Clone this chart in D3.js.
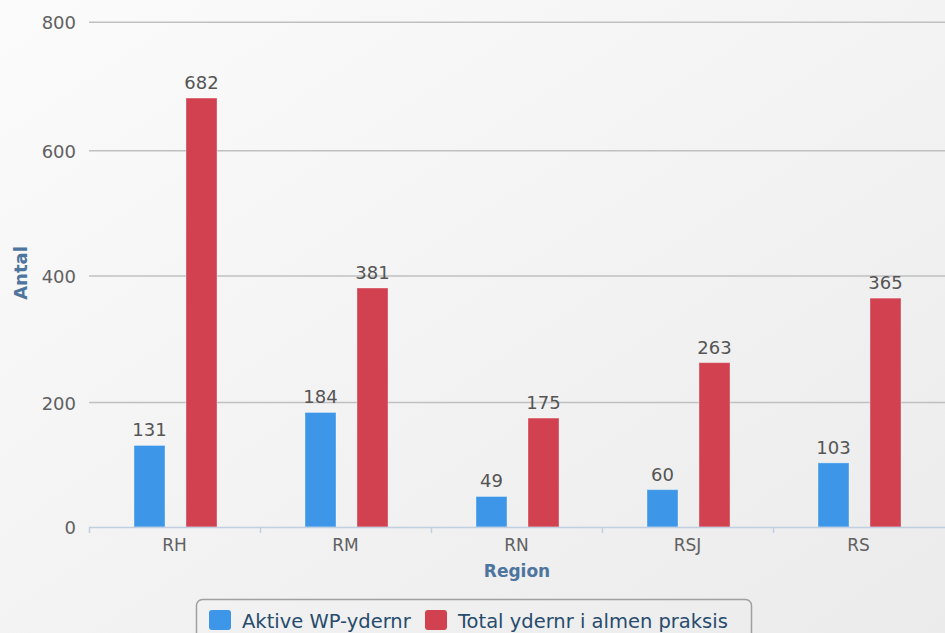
<!DOCTYPE html>
<html><head><meta charset="utf-8">
<script src="https://cdn.jsdelivr.net/npm/d3@7/dist/d3.min.js"></script>
<style>html,body{margin:0;padding:0;overflow:hidden;background:#f2f2f2}</style>
</head><body>
<svg id="c" width="945" height="633"></svg>
<script>
const categories = ["RH", "RM", "RN", "RSJ", "RS"];
const seriesNames = ["Aktive WP-ydernr", "Total ydernr i almen praksis"];
const aktive = [131, 184, 49, 60, 103];
const total = [682, 381, 175, 263, 365];
const yTicks = [0, 200, 400, 600, 800];
const colors = ["#3d96e8", "#d1414f"];

const svg = d3.select("#c");
const W = 945, H = 633;
const defs = svg.append("defs");
const g = defs.append("linearGradient").attr("id","bg").attr("x1",0).attr("y1",0).attr("x2",1).attr("y2",1);
g.append("stop").attr("offset","0%").attr("stop-color","#fbfbfb");
g.append("stop").attr("offset","100%").attr("stop-color","#ebebeb");
svg.append("rect").attr("width",W).attr("height",H).attr("fill","url(#bg)");

const pL = 89, pR = 944, pB = 527;
const x = d3.scaleBand().domain(categories).range([pL, pR]).padding(0);
// picture is slightly non-uniformly scaled vertically; follow measured gridline positions
const y = d3.scaleLinear().domain(yTicks).range([pB, 402.5, 276, 150.7, 22.3]);
const xs = d3.scaleBand().domain([0,1]).range([45, 128]).paddingInner(21/52).paddingOuter(0);

const font = "'DejaVu Sans', sans-serif";

// grid
svg.append("g").selectAll("line").data(yTicks.filter(d=>d>0)).join("line")
  .attr("x1", pL).attr("x2", W).attr("y1", d=>y(d)).attr("y2", d=>y(d))
  .attr("stroke","#c0c0c0").attr("stroke-width",1.6);

// y labels
svg.append("g").selectAll("text").data(yTicks).join("text")
  .attr("x", 76).attr("y", d=>y(d)+7).attr("text-anchor","end")
  .attr("font-family",font).attr("font-size",18).attr("fill","#606060").text(d=>d);

// bars
const data = [aktive, total];
data.forEach((vals, si) => {
  const gg = svg.append("g");
  gg.selectAll("rect").data(vals).join("rect")
    .attr("x", (d,i)=>x(categories[i]) + xs(si))
    .attr("width", xs.bandwidth())
    .attr("y", d=>y(d)).attr("height", d=>pB - y(d))
    .attr("fill", colors[si]).attr("stroke","rgba(255,255,255,0.35)").attr("stroke-width",1);
  gg.selectAll("text").data(vals).join("text")
    .attr("x", (d,i)=>x(categories[i]) + xs(si) + xs.bandwidth()/2)
    .attr("y", d=>y(d) - 9).attr("text-anchor","middle")
    .attr("font-family",font).attr("font-size",18).attr("fill","#555555").text(d=>d);
});

// x axis
svg.append("line").attr("x1", pL).attr("x2", W).attr("y1", pB+0.5).attr("y2", pB+0.5)
  .attr("stroke","#c0d0e0").attr("stroke-width",1.5);
svg.append("g").selectAll("line").data(categories).join("line")
  .attr("x1", d=>x(d)+0.5).attr("x2", d=>x(d)+0.5).attr("y1", pB).attr("y2", pB+6)
  .attr("stroke","#c0d0e0").attr("stroke-width",1.5);
svg.append("g").selectAll("text").data(categories).join("text")
  .attr("x", d=>x(d)+x.bandwidth()/2).attr("y", 551).attr("text-anchor","middle")
  .attr("font-family",font).attr("font-size",17).attr("fill","#606060").text(d=>d);

// axis titles
svg.append("text").attr("x", 517).attr("y", 577).attr("text-anchor","middle")
  .attr("font-family",font).attr("font-size",17).attr("font-weight","bold").attr("fill","#4d759e").text("Region");
svg.append("text").attr("transform","translate(27,273) rotate(-90)").attr("text-anchor","middle")
  .attr("font-family",font).attr("font-size",18).attr("font-weight","bold").attr("fill","#4d759e").text("Antal");

// legend
const lg = svg.append("g");
lg.append("rect").attr("x",196.5).attr("y",599.5).attr("width",555).attr("height",50).attr("rx",6)
  .attr("fill","none").attr("stroke","#a0a0a0").attr("stroke-width",1.5);
const legX = [209, 425];
seriesNames.forEach((n,i)=>{
  lg.append("rect").attr("x",legX[i]).attr("y",610).attr("width",22).attr("height",20).attr("rx",3).attr("fill",colors[i]);
  lg.append("text").attr("x",legX[i]+33).attr("y",628).attr("font-family",font).attr("font-size",19.5)
    .attr("fill","#274b6d").text(n);
});
</script>
</body></html>
